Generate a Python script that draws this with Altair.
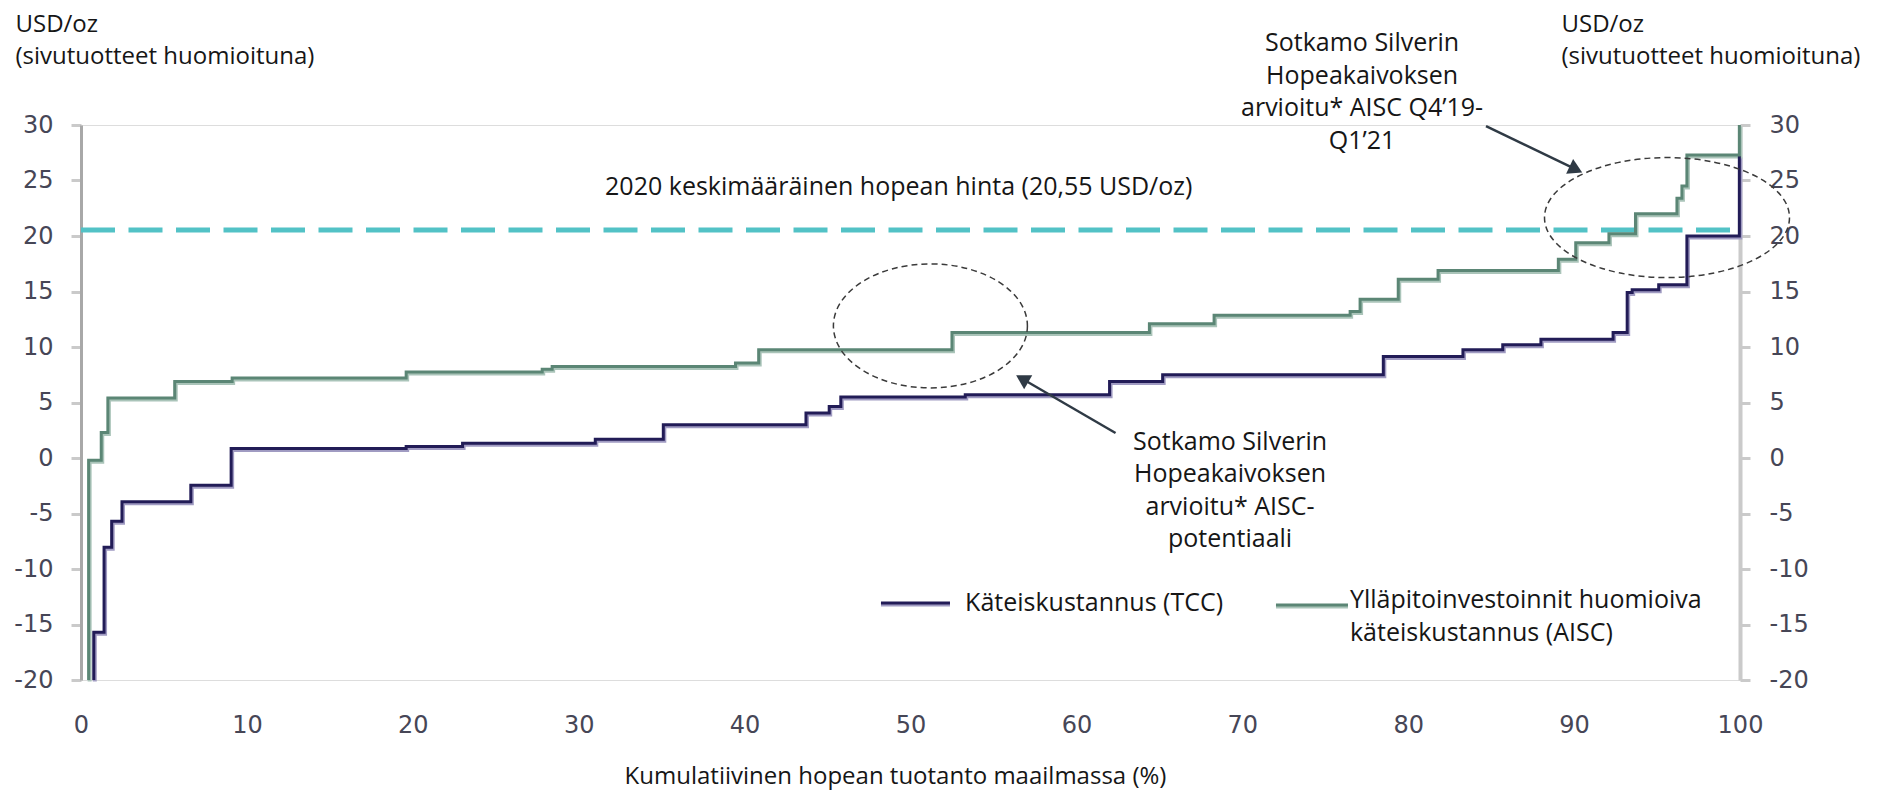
import altair as alt
import pandas as pd

# ---------------- data ----------------
# cumulative production (%) where each step starts, and the cost level of that step (USD/oz)
tcc_x = [0.77, 0.77, 1.39, 1.85, 2.47, 6.62, 9.05, 19.6, 23.0, 31.0, 35.1, 43.7, 45.1, 45.8,
         53.3, 62.0, 65.2, 78.5, 83.3, 85.7, 88.0, 92.35, 93.2, 93.5, 95.1, 96.8, 99.96]
tcc_y = [-20, -15.7, -8.05, -5.7, -3.95, -2.45, 0.86, 1.04, 1.33, 1.7, 3.0, 4.05, 4.64, 5.49,
         5.7, 6.9, 7.5, 9.15, 9.75, 10.2, 10.7, 11.3, 14.9, 15.15, 15.6, 20.0, 27.2]

aisc_x = [0.46, 0.46, 1.22, 1.62, 5.65, 9.11, 19.6, 27.8, 28.4, 39.45, 40.85, 52.5, 64.4,
          68.3, 76.5, 77.1, 79.4, 81.8, 89.05, 90.1, 92.1, 93.7, 96.2, 96.5, 96.8, 99.96]
aisc_y = [-20, -0.2, 2.3, 5.4, 6.9, 7.2, 7.75, 8.0, 8.25, 8.55, 9.75, 11.3, 12.1,
          12.85, 13.2, 14.3, 16.1, 16.9, 17.9, 19.4, 20.2, 22.0, 23.4, 24.5, 27.3, 30]

silver_price = 20.55
price_end = 99.5

x_ticks = [0, 10, 20, 30, 40, 50, 60, 70, 80, 90, 100]
y_ticks = [-20, -15, -10, -5, 0, 5, 10, 15, 20, 25, 30]

series_names = ["Käteiskustannus (TCC)", "Ylläpitoinvestoinnit huomioiva käteiskustannus (AISC)"]
dark_colors = ["#221c57", "#5b8675"]
light_colors = ["#a09bc2", "#aac4b9"]

y_title = ["USD/oz", "(sivutuotteet huomioituna)"]
x_title = "Kumulatiivinen hopean tuotanto maailmassa (%)"
price_label = "2020 keskimääräinen hopean hinta (20,55 USD/oz)"
note_top = "Sotkamo Silverin\nHopeakaivoksen\narvioitu* AISC Q4’19-\nQ1’21"
note_mid = "Sotkamo Silverin\nHopeakaivoksen\narvioitu* AISC-\npotentiaali"

# annotation anchors (in data units)
ellipse_x = [51.2, 95.6]
ellipse_y = [11.9, 21.66]
arrow_x = [84.69, 62.36]
arrow_y = [29.9, 2.25]
arrow_x2 = [90.11, 56.73]
arrow_y2 = [26.0, 7.14]
arrow_angle = [25.6, 210]

# ---------------- chart ----------------
FONT = "Open Sans"
NUM_FONT = "DejaVu Sans"
W, H = 1659, 555
XS = alt.Scale(domain=[0, 100], nice=False, zero=False)
LABEL_EXPR = "datum.value < 0 ? '-' + abs(datum.value) : '' + datum.value"


def YS():
    return alt.Scale(domain=[-20, 30], nice=False, zero=False)


x_axis = alt.Axis(
    values=x_ticks, grid=False, domain=False, ticks=False, labelFlush=False,
    labelFont=NUM_FONT, labelFontSize=24, labelColor="#464656", labelPadding=33,
    title=x_title, titleFont=FONT, titleFontSize=24, titleFontWeight="normal",
    titleColor="#161616", titleX=814, titleY=103, titleAlign="center", titleBaseline="alphabetic",
)


def XE(field="x"):
    return alt.X(f"{field}:Q", scale=XS, axis=x_axis)


lines = pd.DataFrame({
    "x": tcc_x + aisc_x,
    "y": tcc_y + aisc_y,
    "series": [series_names[0]] * len(tcc_x) + [series_names[1]] * len(aisc_x),
    "i": list(range(len(tcc_x))) + list(range(len(aisc_x))),
})

price_df = pd.DataFrame({"y": [silver_price], "x": [0], "x2": [price_end]})
price_rule = alt.Chart(price_df).mark_rule(
    color="#52c2c6", strokeWidth=5, strokeDash=[34, 13.5]
).encode(x=XE(), x2="x2:Q", y=alt.Y("y:Q", scale=YS(), axis=None))

shadow = alt.Chart(lines).mark_line(
    interpolate="step-after", strokeWidth=4, yOffset=1.5, xOffset=1
).encode(
    x=XE(),
    y=alt.Y("y:Q", scale=YS(), axis=None),
    color=alt.Color("series:N", scale=alt.Scale(domain=series_names, range=light_colors), legend=None),
    order="i:Q",
)

left_axis = alt.Axis(
    orient="left", values=y_ticks, grid=False, domain=True, domainColor="#a8a8a8", domainWidth=3,
    ticks=True, tickColor="#cacaca", tickWidth=3, tickSize=10, labelExpr=LABEL_EXPR,
    labelFont=NUM_FONT, labelFontSize=24, labelColor="#464656", labelPadding=18,
    title=y_title, titleAngle=0, titleAlign="left", titleBaseline="alphabetic",
    titleX=-66, titleY=-94, titleFont=FONT, titleFontSize=24, titleFontWeight="normal",
    titleColor="#161616", titleLineHeight=32,
)

right_axis = alt.Axis(
    orient="right", values=y_ticks, grid=False, domain=True, domainColor="#cacaca", domainWidth=4,
    ticks=True, tickColor="#cacaca", tickWidth=3, tickSize=10, labelExpr=LABEL_EXPR,
    labelFont=NUM_FONT, labelFontSize=24, labelColor="#464656", labelPadding=19,
    title=y_title, titleAngle=0, titleAlign="left", titleBaseline="alphabetic",
    titleX=-179, titleY=-94, titleFont=FONT, titleFontSize=24, titleFontWeight="normal",
    titleColor="#161616", titleLineHeight=32,
)

tcc_line = alt.Chart(lines[lines.series == series_names[0]]).mark_line(
    interpolate="step-after", strokeWidth=3, color=dark_colors[0]
).encode(
    x=XE(),
    y=alt.Y("y:Q", scale=YS(), axis=left_axis),
    order="i:Q",
)

aisc_line = alt.Chart(lines[lines.series == series_names[1]]).mark_line(
    interpolate="step-after", strokeWidth=3, color=dark_colors[1]
).encode(
    x=XE(),
    y=alt.Y("y:Q", scale=YS(), axis=right_axis),
    order="i:Q",
)

# dashed ellipses
k = 0.5523


def ellipse_path(r):
    return (f"M 1 0 C 1 {k*r:.4f} {k:.4f} {r:.4f} 0 {r:.4f} "
            f"C {-k:.4f} {r:.4f} -1 {k*r:.4f} -1 0 "
            f"C -1 {-k*r:.4f} {-k:.4f} {-r:.4f} 0 {-r:.4f} "
            f"C {k:.4f} {-r:.4f} 1 {-k*r:.4f} 1 0 Z")


ell_layers = []
for cx, cy, rx, ry in [(ellipse_x[0], ellipse_y[0], 97, 62), (ellipse_x[1], ellipse_y[1], 122.5, 60)]:
    ell_layers.append(
        alt.Chart(pd.DataFrame({"x": [cx], "y": [cy]})).mark_point(
            shape=ellipse_path(ry / rx), size=(2 * rx) ** 2, filled=False, opacity=1,
            stroke="#3a3a3a", strokeWidth=1.5, strokeDash=[6, 4]
        ).encode(x=XE(), y=alt.Y("y:Q", scale=YS(), axis=None))
    )

arrows = pd.DataFrame({"x": arrow_x, "y": arrow_y, "x2": arrow_x2, "y2": arrow_y2, "a": arrow_angle})
arrow_rule = alt.Chart(arrows).mark_rule(color="#2f3a45", strokeWidth=2.5).encode(
    x=XE(), x2="x2:Q", y=alt.Y("y:Q", scale=YS(), axis=None), y2="y2:Q"
)
arrow_head = alt.Chart(arrows).mark_point(
    shape="triangle-right", filled=True, size=260, color="#2f3a45", opacity=1
).encode(
    x=XE("x2"),
    y=alt.Y("y2:Q", scale=YS(), axis=None),
    angle=alt.Angle("a:Q", scale=None),
)

# texts
left_texts = pd.DataFrame({"x": [31.59], "y": [23.73], "t": [price_label]})
left_text = alt.Chart(left_texts).mark_text(
    font=FONT, fontSize=25, color="#161616", align="left", baseline="alphabetic"
).encode(x=XE(), y=alt.Y("y:Q", scale=YS(), axis=None), text="t:N")

center_texts = pd.DataFrame({"x": [77.22, 69.26], "y": [36.63, 0.74], "t": [note_top, note_mid]})
center_text = alt.Chart(center_texts).mark_text(
    font=FONT, fontSize=25, color="#161616", align="center", baseline="alphabetic",
    lineBreak="\n", lineHeight=32.5
).encode(x=XE(), y=alt.Y("y:Q", scale=YS(), axis=None), text="t:N")

# legend (drawn manually)
leg_sym = pd.DataFrame({
    "series": series_names, "x": [48.22, 72.03], "x2": [52.38, 76.37], "y": [-13.06, -13.24]
})
leg_shadow = alt.Chart(leg_sym).mark_rule(strokeWidth=4, yOffset=1.5).encode(
    x=XE(), x2="x2:Q", y=alt.Y("y:Q", scale=YS(), axis=None),
    color=alt.Color("series:N", scale=alt.Scale(domain=series_names, range=light_colors), legend=None),
)
leg_line = alt.Chart(leg_sym).mark_rule(strokeWidth=3).encode(
    x=XE(), x2="x2:Q", y=alt.Y("y:Q", scale=YS(), axis=None),
    color=alt.Color("series:N", scale=alt.Scale(domain=series_names, range=dark_colors), legend=None),
)
leg_txt = pd.DataFrame({
    "x": [53.29, 76.49], "y": [-13.06, -12.79],
    "t": ["Käteiskustannus (TCC)", "Ylläpitoinvestoinnit huomioiva\nkäteiskustannus (AISC)"],
})
leg_text = alt.Chart(leg_txt).mark_text(
    font=FONT, fontSize=25, color="#161616", align="left", baseline="middle",
    lineBreak="\n", lineHeight=33
).encode(x=XE(), y=alt.Y("y:Q", scale=YS(), axis=None), text="t:N")

chart = alt.layer(
    price_rule, shadow, tcc_line, aisc_line, *ell_layers, arrow_rule, arrow_head,
    left_text, center_text, leg_shadow, leg_line, leg_text
).resolve_scale(y="independent", color="independent").properties(
    width=W, height=H,
    autosize=alt.AutoSizeParams(type="none"),
    padding={"left": 73, "top": 117, "right": 130, "bottom": 116},
).configure_view(stroke=None).configure(background="white")

chart.save("out.html", embed_options={"renderer": "svg", "actions": False})
